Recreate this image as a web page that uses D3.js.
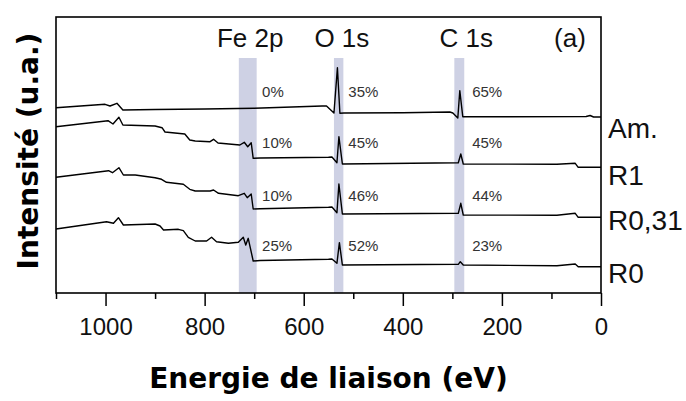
<!DOCTYPE html>
<html>
<head>
<meta charset="utf-8">
<script src="https://cdn.jsdelivr.net/npm/d3@7"></script>
<style>
  body { margin: 0; background: #fff; }
  svg { display: block; }
</style>
</head>
<body>
<script>
// XPS survey spectra, binding energy (eV) vs intensity (a.u.)
var seriesNames = ["Am.", "R1", "R0,31", "R0"];

var amEnergy = [1100, 1001, 991, 977, 965, 900, 800, 700, 563, 554, 539, 532, 527, 519, 400, 305, 299, 289, 285, 279, 200, 30, 22, 15, 0];
var amValue  = [185.3, 188.7, 187, 189.7, 183, 183.5, 184, 184.7, 187, 187, 180, 225.3, 179.7, 180, 180.3, 181, 180, 175, 202.3, 176.3, 176.3, 176.5, 177.5, 176, 176];

var r1Energy = [1100, 995, 985, 973, 965, 900, 886, 880, 840, 830, 819, 789, 782, 773, 729, 720, 713, 706, 702, 688, 550, 543, 533, 529, 522, 288, 283, 278, 89, 52, 46, 0];
var r1Value  = [166.3, 172.3, 169, 175.7, 168, 167, 165.3, 161, 159, 153, 152, 151.3, 153.7, 150, 148, 150.7, 146.3, 150.3, 134.7, 135, 135.7, 136, 130.3, 156.3, 129, 130.3, 139, 129, 128.7, 129.7, 125.7, 125.7];

var r031Energy = [1100, 994, 986, 973, 964, 940, 900, 887, 877, 843, 830, 819, 789, 782, 772, 732, 720, 714, 706, 702, 688, 550, 543, 533, 529, 522, 288, 283, 278, 89, 52, 46, 0];
var r031Value  = [115.7, 122.3, 120.3, 125.3, 118, 118, 115.3, 113.7, 110.7, 108.7, 103.7, 102, 102, 103, 99.7, 97.3, 99.7, 95.3, 99, 84, 84.3, 85.7, 86, 80.3, 109, 79, 79.7, 89.7, 78, 77.7, 79.7, 75.7, 75.7];

var r0Energy = [1100, 998, 984, 974, 964, 900, 890, 883, 853, 843, 833, 819, 796, 786, 776, 752, 732, 722, 717, 712, 702, 688, 550, 543, 533, 528, 522, 288, 284, 278, 89, 52, 46, 0];
var r0Value  = [64, 71.3, 69.7, 75.3, 68, 69, 67, 63, 63.7, 62.3, 55.7, 52, 52, 55.7, 51.3, 49.7, 50.7, 55.7, 48, 54.7, 32, 32.5, 33.7, 34, 29.7, 50.3, 28, 28.7, 31.3, 28, 27.3, 29, 26.3, 26.3];

// element regions (eV) and atomic percentages per sample
var regionNames = ["Fe 2p", "O 1s", "C 1s"];
var regionStart = [695, 520, 276];
var regionEnd   = [731, 539, 296];
var fePercent = ["0%", "10%", "10%", "25%"];
var oPercent  = ["35%", "45%", "46%", "52%"];
var cPercent  = ["65%", "45%", "44%", "23%"];

var majorTicks = [1000, 800, 600, 400, 200, 0];
var minorTicks = [1100, 900, 700, 500, 300, 100];

var width = 686, height = 401;
var plot = {left: 56, right: 601, top: 17, bottom: 293};
var labelFont = "'Liberation Sans', Arial, sans-serif";
var titleFont = "'DejaVu Sans', Verdana, sans-serif";

var xScale = d3.scaleLinear()
               .domain([1100, 0])
               .range([plot.left, plot.right]);

var yScale = d3.scaleLinear()
               .domain([0, 276])
               .range([plot.bottom, plot.top]);

var _svg = d3.select("body")
             .append("svg")
             .attr("width", width)
             .attr("height", height);

//shaded element bands
var bandTop = 235;
_svg.append("g")
    .selectAll("rect")
    .data(regionStart)
    .enter()
    .append("rect")
    .attr("x", function(d, i){ return xScale(regionEnd[i]); })
    .attr("width", function(d, i){ return xScale(d) - xScale(regionEnd[i]); })
    .attr("y", yScale(bandTop))
    .attr("height", yScale(0) - yScale(bandTop))
    .attr("fill", "#ced1e4");

//spectra
var allSeries = [
    {e: amEnergy, v: amValue},
    {e: r1Energy, v: r1Value},
    {e: r031Energy, v: r031Value},
    {e: r0Energy, v: r0Value}
];

var line = d3.line()
             .x(function(d){ return xScale(d[0]); })
             .y(function(d){ return yScale(d[1]); });

_svg.append("g")
    .selectAll("path")
    .data(allSeries)
    .enter()
    .append("path")
    .attr("d", function(s){ return line(d3.zip(s.e, s.v)); })
    .attr("fill", "none")
    .attr("stroke", "#000")
    .attr("stroke-width", 1.4)
    .attr("stroke-linejoin", "round");

//value of a series at a given energy
function valueAt(s, e){
    for(var i = 0; i < s.e.length - 1; i++){
        if(s.e[i] >= e && s.e[i + 1] <= e){
            var t = (s.e[i] - e) / (s.e[i] - s.e[i + 1]);
            return s.v[i] + t * (s.v[i + 1] - s.v[i]);
        }
    }
    return s.v[s.v.length - 1];
}

//percent labels above each curve
var pctLists = [fePercent, oPercent, cPercent];
var pctEnergy = [684, 510, 260];
var pctLift = [10, 10, 7, 9];
pctLists.forEach(function(list, k){
    _svg.append("g")
        .selectAll("text")
        .data(list)
        .enter()
        .append("text")
        .attr("x", xScale(pctEnergy[k]))
        .attr("y", function(d, i){ return yScale(valueAt(allSeries[i], 650)) - pctLift[i]; })
        .attr("font-family", labelFont)
        .attr("font-size", 15)
        .attr("fill", "#333")
        .text(function(d){ return d; });
});

//element names on top
var regionCenter = [708, 523, 272];
_svg.append("g")
    .selectAll("text")
    .data(regionNames)
    .enter()
    .append("text")
    .attr("x", function(d, i){ return xScale(regionCenter[i]); })
    .attr("y", 47)
    .attr("text-anchor", "middle")
    .attr("font-family", labelFont)
    .attr("font-size", 26)
    .attr("fill", "#111")
    .text(function(d){ return d; });

_svg.append("text")
    .attr("x", 570)
    .attr("y", 47)
    .attr("text-anchor", "middle")
    .attr("font-family", labelFont)
    .attr("font-size", 26)
    .attr("fill", "#111")
    .text("(a)");

//sample names at right end
var nameNudge = [21, 18, 13, 16];
_svg.append("g")
    .selectAll("text")
    .data(seriesNames)
    .enter()
    .append("text")
    .attr("x", 608)
    .attr("y", function(d, i){ return yScale(valueAt(allSeries[i], 0)) + nameNudge[i]; })
    .attr("font-family", labelFont)
    .attr("font-size", 28)
    .attr("fill", "#111")
    .text(function(d){ return d; });

//axes
var xAxis = d3.axisBottom(xScale)
              .tickValues(majorTicks)
              .tickSize(13)
              .tickPadding(12)
              .tickFormat(d3.format("d"));

var xMinor = d3.axisBottom(xScale)
               .tickValues(minorTicks)
               .tickSize(6)
               .tickFormat("");

var gx = _svg.append("g")
             .attr("transform", "translate(0," + plot.bottom + ")")
             .call(xAxis);
gx.select(".domain").remove();
gx.selectAll("line").attr("stroke-width", 1.5);
gx.selectAll("text")
  .attr("font-family", labelFont)
  .attr("font-size", 24)
  .attr("fill", "#111");

var gm = _svg.append("g")
             .attr("transform", "translate(0," + plot.bottom + ")")
             .call(xMinor);
gm.select(".domain").remove();
gm.selectAll("line").attr("stroke-width", 1.5);

//plot frame
_svg.append("rect")
    .attr("x", plot.left)
    .attr("y", plot.top)
    .attr("width", plot.right - plot.left)
    .attr("height", plot.bottom - plot.top)
    .attr("fill", "none")
    .attr("stroke", "#000")
    .attr("stroke-width", 1.6);

//axis titles
_svg.append("text")
    .attr("x", (plot.left + plot.right) / 2)
    .attr("y", 388)
    .attr("text-anchor", "middle")
    .attr("font-family", titleFont)
    .attr("font-weight", "bold")
    .attr("font-size", 28)
    .text("Energie de liaison (eV)");

_svg.append("text")
    .attr("transform", "translate(38," + ((plot.top + plot.bottom) / 2 - 4) + ") rotate(-90)")
    .attr("text-anchor", "middle")
    .attr("font-family", titleFont)
    .attr("font-weight", "bold")
    .attr("font-size", 28)
    .text("Intensité (u.a.)");
</script>
</body>
</html>
